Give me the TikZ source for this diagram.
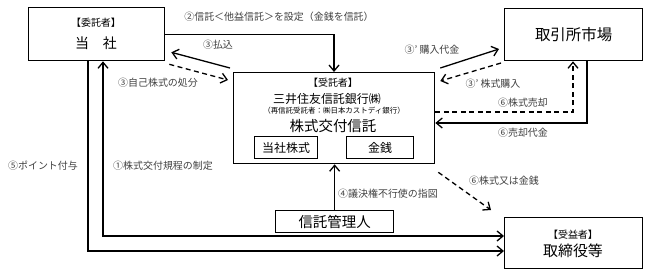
\documentclass[tikz,border=0pt]{standalone}
\usepackage{fontspec}
\setmainfont{Noto Sans CJK JP}
\usetikzlibrary{arrows.meta}
\begin{document}
\begin{tikzpicture}[x=1bp,y=-1bp,
  box/.style={draw,line width=1.3bp,inner sep=0pt,anchor=north west},
  txt/.style={inner sep=0pt},
  lbl/.style={inner sep=0pt,font=\fontsize{10}{12}\selectfont,text=black!75},
  con/.style={line width=1.3bp,-{Straight Barb[length=6bp,width=10bp]}},
  dcon/.style={con,dash pattern=on 5bp off 3.5bp},
]
\useasboundingbox (0,0) rectangle (648,276);
% boxes
\node[box,minimum width=136bp,minimum height=53bp] (itaku) at (28,7) {};
\node[box,minimum width=138bp,minimum height=52bp] (market) at (504,8) {};
\node[box,minimum width=201bp,minimum height=91bp] (trust) at (233,72) {};
\node[box,minimum width=63bp,minimum height=22bp] (stock) at (254,136) {};
\node[box,minimum width=67bp,minimum height=22bp] (money) at (346,136) {};
\node[box,minimum width=118bp,minimum height=22bp] (kanri) at (275,210) {};
\node[box,minimum width=138bp,minimum height=51bp] (juek) at (504,217) {};
% box texts
\node[txt,font=\fontsize{10}{12}\selectfont] (itaku-a) at (96,23) {【委託者】};
\node[txt,font=\fontsize{14}{16}\selectfont] (itaku-b) at (96,43) {当　社};
\node[txt,font=\fontsize{15.5}{17}\selectfont] (market-a) at (market.center) {取引所市場};
\node[txt,font=\fontsize{10}{12}\selectfont] (trust-a) at (333,83) {【受託者】};
\node[txt,font=\fontsize{12}{14}\selectfont] (trust-b) at (327,99) {三井住友信託銀行㈱};
\node[txt,font=\fontsize{7.5}{9}\selectfont] (trust-c) at (334,111) {（再信託受託者：㈱日本カストディ銀行）};
\node[txt,font=\fontsize{14.5}{16}\selectfont] (trust-d) at (333,126) {株式交付信託};
\node[txt,font=\fontsize{12}{14}\selectfont] (stock-a) at (stock.center) {当社株式};
\node[txt,font=\fontsize{12}{14}\selectfont] (money-a) at (money.center) {金銭};
\node[txt,font=\fontsize{14.5}{16}\selectfont] (kanri-a) at (kanri.center) {信託管理人};
\node[txt,font=\fontsize{10}{12}\selectfont] (juek-a) at (573,235) {【受益者】};
\node[txt,font=\fontsize{15}{17}\selectfont] (juek-b) at (573,251) {取締役等};
% connectors
\draw[con] (itaku.east) -| ([shift={(101,0)}]trust.north west);
\node[lbl] (l2) at (279,17) {②信託＜他益信託＞を設定（金銭を信託）};
\draw[con] ([shift={(-3,-4)}]trust.north west) -- ([shift={(6,-9)}]itaku.south east);
\node[lbl] (l3a) at (218,45) {③払込};
\draw[dcon] ([shift={(4,3)}]itaku.south east) -- ([shift={(-5,8)}]trust.north west);
\node[lbl] (l3b) at (158,83) {③自己株式の処分};
\draw[con] ([shift={(5,-4)}]trust.north east) -- ([shift={(-5,41)}]market.north west);
\node[lbl] (l3c) at (432,50) {③’ 購入代金};
\draw[dcon] ([shift={(-3,55)}]market.north west) -- ([shift={(5,9)}]trust.north east);
\node[lbl] (l3d) at (493,84) {③’ 株式購入};
\draw[dcon] ([shift={(0,40)}]trust.north east) -| ([shift={(69,0)}]market.south west);
\node[lbl] (l6a) at (523,103) {⑥株式売却};
\draw[con] ([shift={(83,0)}]market.south west) |- ([shift={(0,51)}]trust.north east);
\node[lbl] (l6b) at (523,133) {⑥売却代金};
\draw[con] (kanri.north) -- (kanri.north |- trust.south);
\node[lbl,anchor=west] (l4) at (338,194) {④議決権不行使の指図};
\draw[dcon] ([shift={(3,8)}]trust.south east) -- ([shift={(-13,-7)}]juek.north west);
\node[lbl] (l6c) at (504,181) {⑥株式又は金銭};
\draw[con] ([shift={(60,0)}]itaku.south west) |- ([shift={(0,34)}]juek.north west);
\draw[con,{Straight Barb[length=6bp,width=10bp]}-{Straight Barb[length=6bp,width=10bp]}] ([shift={(75,0)}]itaku.south west) |- ([shift={(0,19)}]juek.north west);
\node[lbl] (l5) at (43,166) {⑤ポイント付与};
\node[lbl] (l1) at (163,166) {①株式交付規程の制定};
\end{tikzpicture}
\end{document}
